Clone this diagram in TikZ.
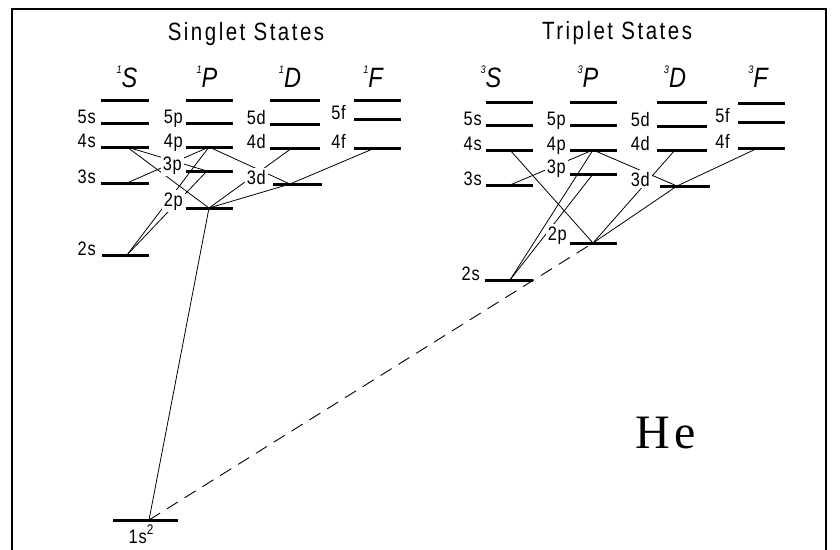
\documentclass[tikz,border=0pt]{standalone}
\usepackage{fontspec}
\newfontfamily\lab{Liberation Sans}[FakeStretch=0.82,LetterSpace=10]
\newfontfamily\labs{Liberation Sans}[FakeStretch=0.84,LetterSpace=4]
\newfontfamily\heser{Liberation Serif}
\newcommand{\supn}[1]{\raisebox{0.5em}{\fontsize{11}{11}\selectfont #1}}
\begin{document}
\begin{tikzpicture}[x=1pt,y=-1pt,
  lvl/.style={line width=3pt},
  tr/.style={line width=0.8pt},
  dsh/.style={line width=0.9pt,dash pattern=on 13pt off 8pt},
  lbl/.style={font=\labs\fontsize{19.5}{19.5}\selectfont,fill=white,inner sep=2pt,anchor=base east},
  hdr/.style={font=\lab\fontsize{25}{25}\selectfont,inner sep=0pt,anchor=base},
  term/.style={font=\labs\itshape\fontsize{28}{28}\selectfont,inner sep=0pt,anchor=base}]
\useasboundingbox (0,0) rectangle (840,549);
% frame
\draw[line width=2.3pt] (12,552) -- (12,9) -- (826,9) -- (826,552);
% headers
\node[hdr] (hs) at (246,40) {Singlet States};
\node[hdr] (ht) at (617,39) {Triplet States};
\node[term] (t1S) at (127,87) {\supn{1}S};
\node[term] (t1P) at (207,87) {\supn{1}P};
\node[term] (t1D) at (290,87) {\supn{1}D};
\node[term] (t1F) at (373,87) {\supn{1}F};
\node[term] (t3S) at (491,87) {\supn{3}S};
\node[term] (t3P) at (588,87) {\supn{3}P};
\node[term] (t3D) at (675,87) {\supn{3}D};
\node[term] (t3F) at (758,87) {\supn{3}F};
% transition points, singlet
\coordinate (a4s) at (127,147);
\coordinate (a3s) at (127,183);
\coordinate (a2s) at (127,255);
\coordinate (a4p) at (209,147);
\coordinate (a3p) at (207,171);
\coordinate (a2p) at (209,208);
\coordinate (a3d) at (290,184);
\coordinate (a4d) at (292,148);
\coordinate (a4f) at (375,148);
\coordinate (a1s) at (149,520);
% transition points, triplet
\coordinate (b4s) at (510,150);
\coordinate (b3s) at (510,185);
\coordinate (b2s) at (510,280);
\coordinate (b4p) at (593,150);
\coordinate (b3p) at (593,174);
\coordinate (b2p) at (593,243);
\coordinate (b3d) at (677,186);
\coordinate (b4d) at (675,150);
\coordinate (b4f) at (758,148);
% transitions singlet
\draw[tr] (a4s) -- (a3p);
\draw[tr] (a4s) -- (a2p);
\draw[tr] (a3s) -- (a4p);
\draw[tr] (a4p) -- (a2s);
\draw[tr] (a3p) -- (a2s);
\draw[tr] (a4p) -- (a3d);
\draw[tr] (a4d) -- (a2p);
\draw[tr] (a4f) -- (a3d);
\draw[tr] (a3d) -- (a2p);
\draw[tr] (a2p) -- (a1s);
% transitions triplet
\draw[tr] (b3s) -- (b4p);
\draw[tr] (b4s) -- (b2p);
\draw[tr] (b4p) -- (b2s);
\draw[tr] (b3p) -- (b2s);
\draw[tr] (b4p) -- (b3d);
\draw[tr] (b4d) -- (b2p);
\draw[tr] (b4f) -- (b3d);
\draw[tr] (b3d) -- (b2p);
\draw[dsh] (a1s) -- (b2p);
% labels singlet
\node[lbl] (l5s) at (98,123) {5s};
\node[lbl] (l4s) at (98,147) {4s};
\node[lbl] (l3s) at (98,183) {3s};
\node[lbl] (l2s) at (98,255) {2s};
\node[lbl] (l5p) at (185,123) {5p};
\node[lbl] (l4p) at (185,147) {4p};
\node[lbl] (l3p) at (184,170) {3p};
\node[lbl] (l2p) at (185,206) {2p};
\node[lbl] (l5d) at (268,124) {5d};
\node[lbl] (l4d) at (268,148) {4d};
\node[lbl] (l3d) at (268,184) {3d};
\node[lbl] (l5f) at (348,119) {5f};
\node[lbl] (l4f) at (348,148) {4f};
\node[font=\labs\fontsize{19.5}{19.5}\selectfont,inner sep=0pt,anchor=base] (l1s) at (141,543) {1s\raisebox{0.45em}{\fontsize{14}{14}\selectfont 2}};
% labels triplet
\node[lbl] (m5s) at (484,125) {5s};
\node[lbl] (m4s) at (484,150) {4s};
\node[lbl] (m3s) at (484,185) {3s};
\node[lbl] (m2s) at (482,280) {2s};
\node[lbl] (m5p) at (568,125) {5p};
\node[lbl] (m4p) at (568,150) {4p};
\node[lbl] (m3p) at (568,173) {3p};
\node[lbl] (m2p) at (569,240) {2p};
\node[lbl] (m5d) at (652,126) {5d};
\node[lbl] (m4d) at (652,150) {4d};
\node[lbl] (m3d) at (652,186) {3d};
\node[lbl] (m5f) at (732,122) {5f};
\node[lbl] (m4f) at (732,148) {4f};
% level lines singlet
\foreach \y in {100,123,147,183} \draw[lvl] (101,\y) -- (149,\y);
\draw[lvl] (102,255) -- (149,255);
\foreach \y in {100,123,147,171,208} \draw[lvl] (186,\y) -- (233,\y);
\foreach \y in {100,124,148} \draw[lvl] (270,\y) -- (320,\y);
\draw[lvl] (273,184) -- (322,184);
\foreach \y in {100,119,148} \draw[lvl] (354,\y) -- (401,\y);
\draw[lvl] (113,520) -- (178,520);
% level lines triplet
\foreach \y in {102,125,150,185} \draw[lvl] (486,\y) -- (533,\y);
\draw[lvl] (485,280) -- (533,280);
\foreach \y in {102,125,150,174,243} \draw[lvl] (570,\y) -- (617,\y);
\foreach \y in {102,126,150} \draw[lvl] (657,\y) -- (707,\y);
\draw[lvl] (660,186) -- (710,186);
\foreach \y in {103,122,148} \draw[lvl] (738,\y) -- (785,\y);
% element
\node[font=\heser\fontsize{48}{48}\selectfont,inner sep=0pt,anchor=base] (he) at (665.5,448) {H\kern4pt e};
\end{tikzpicture}
\end{document}
